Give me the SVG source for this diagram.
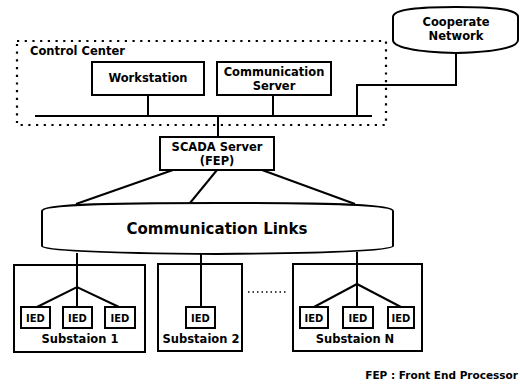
<svg xmlns="http://www.w3.org/2000/svg" width="520" height="389" viewBox="0 0 520 389">
<style>
.box{fill:#fff;stroke:#000;stroke-width:2}
.ln{fill:none;stroke:#000;stroke-width:2}
.t{font-family:"DejaVu Sans","Open Sans",sans-serif;font-weight:bold;fill:#000;text-anchor:middle}
.dot{fill:none;stroke:#000;stroke-width:2.2;stroke-dasharray:2.2 5.5}
</style>
<rect width="520" height="389" fill="#fff"/>
<g id="control-center">
<rect class="dot" x="17" y="41" width="369" height="84"/>
<text class="t" x="30" y="55" font-size="11.5" style="text-anchor:start">Control Center</text>
</g>
<g id="connectors">
<line class="ln" x1="35" y1="116" x2="372" y2="116"/>
<line class="ln" x1="148" y1="95" x2="148" y2="116"/>
<line class="ln" x1="273" y1="95" x2="273" y2="116"/>
<polyline class="ln" points="357,116 357,85 456,85 456,53"/>
<line class="ln" x1="218" y1="116" x2="218" y2="137"/>
<line class="ln" x1="173" y1="170" x2="76" y2="204"/>
<line class="ln" x1="217" y1="170" x2="190" y2="203"/>
<line class="ln" x1="262" y1="170" x2="355" y2="204"/>
<polyline class="ln" points="77,253 77,287"/>
<polyline class="ln" points="37,307 77,287 119,307"/>
<line class="ln" x1="77" y1="287" x2="77" y2="307"/>
<line class="ln" x1="201" y1="253" x2="201" y2="307"/>
<line class="ln" x1="357" y1="252" x2="357" y2="307"/>
<polyline class="ln" points="314,307 357,284 401,307"/>
<line x1="248" y1="292" x2="288" y2="292" stroke="#000" stroke-width="1.5" stroke-dasharray="1.5 3"/>
</g>
<g id="workstation">
<rect class="box" x="92" y="62" width="112" height="33"/>
<text class="t" x="148" y="82" font-size="11.5">Workstation</text>
</g>
<g id="communication-server">
<rect class="box" x="217" y="62" width="114" height="33"/>
<text class="t" x="274" y="76" font-size="11.5">Communication</text>
<text class="t" x="274" y="90" font-size="11.5">Server</text>
</g>
<g id="cooperate-network">
<path class="box" d="M393,17 C393,9 420,7 456,7 C492,7 518,9 518,17 L518,40 C518,48 492,52 456,53 C420,52 393,48 393,40 Z"/>
<text class="t" x="456" y="26" font-size="11.5">Cooperate</text>
<text class="t" x="456" y="40" font-size="11.5">Network</text>
</g>
<g id="scada-server">
<rect class="box" x="160" y="137" width="114" height="33"/>
<text class="t" x="217" y="151" font-size="11.5">SCADA Server</text>
<text class="t" x="217" y="165" font-size="11.5">(FEP)</text>
</g>
<g id="communication-links">
<path class="box" d="M42,211 C42,205 90,203 217,203 C344,203 393,205 393,211 L393,246 C393,250 344,253 217,254 C90,253 42,250 42,246 Z"/>
<text class="t" x="217" y="234" font-size="15">Communication Links</text>
</g>
<g id="substation-1">
<rect class="box" x="14" y="265" width="131" height="87" style="fill:none"/>
<rect class="box" x="21" y="307" width="29" height="21"/>
<rect class="box" x="63" y="307" width="29" height="21"/>
<rect class="box" x="105" y="307" width="30" height="21"/>
<text class="t" x="35.5" y="321.5" font-size="10">IED</text>
<text class="t" x="77.5" y="321.5" font-size="10">IED</text>
<text class="t" x="120" y="321.5" font-size="10">IED</text>
<text class="t" x="80" y="343" font-size="11.5">Substaion 1</text>
</g>
<g id="substation-2">
<rect class="box" x="158" y="264" width="84" height="87" style="fill:none"/>
<rect class="box" x="186" y="307" width="29" height="21"/>
<text class="t" x="200.5" y="321.5" font-size="10">IED</text>
<text class="t" x="201" y="343" font-size="11.5">Substaion 2</text>
</g>
<g id="substation-n">
<rect class="box" x="293" y="264" width="129" height="87" style="fill:none"/>
<rect class="box" x="300" y="307" width="28" height="21"/>
<rect class="box" x="343" y="307" width="30" height="21"/>
<rect class="box" x="388" y="307" width="26" height="21"/>
<text class="t" x="314" y="321.5" font-size="10">IED</text>
<text class="t" x="358" y="321.5" font-size="10">IED</text>
<text class="t" x="401" y="321.5" font-size="10">IED</text>
<text class="t" x="355" y="343" font-size="11.5">Substaion N</text>
</g>
<g id="legend">
<text class="t" x="518" y="379" font-size="10.5" style="text-anchor:end">FEP : Front End Processor</text>
</g>
</svg>
